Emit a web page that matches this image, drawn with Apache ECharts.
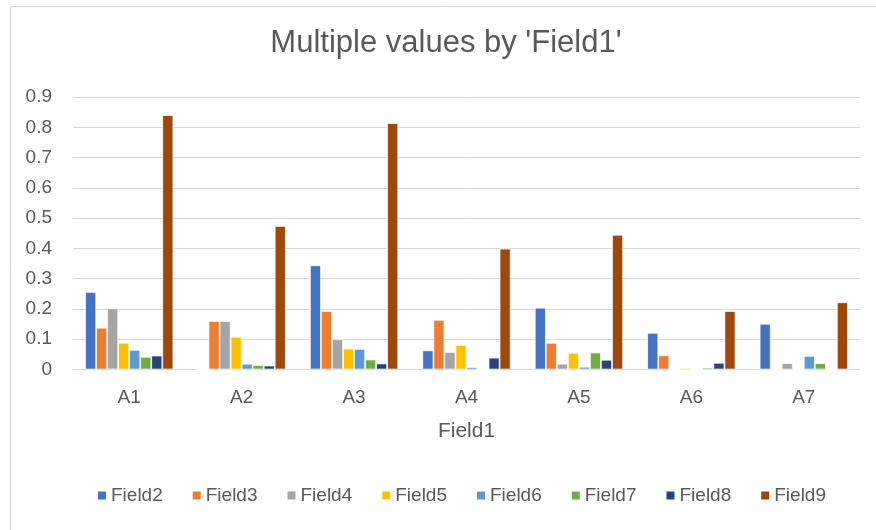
<!DOCTYPE html>
<html>
<head>
<meta charset="utf-8">
<script src="https://cdn.jsdelivr.net/npm/echarts@6/dist/echarts.min.js"></script>
<style>
html,body{margin:0;padding:0;background:#fff;}
#chart{width:876px;height:530px;}
</style>
</head>
<body>
<div id="chart"></div>
<script>
const titleText = "Multiple values by 'Field1'";
const categories = ['A1', 'A2', 'A3', 'A4', 'A5', 'A6', 'A7'];
const seriesNames = ['Field2', 'Field3', 'Field4', 'Field5', 'Field6', 'Field7', 'Field8', 'Field9'];
const field2 = [0.256, 0, 0.344, 0.063, 0.204, 0.121, 0.151];
const field3 = [0.138, 0.160, 0.193, 0.164, 0.088, 0.047, 0];
const field4 = [0.202, 0.160, 0.100, 0.058, 0.019, 0, 0.021];
const field5 = [0.088, 0.108, 0.069, 0.081, 0.055, 0.005, 0];
const field6 = [0.065, 0.019, 0.068, 0.008, 0.009, 0, 0.045];
const field7 = [0.042, 0.015, 0.033, 0, 0.056, 0.006, 0.021];
const field8 = [0.046, 0.013, 0.020, 0.039, 0.032, 0.022, 0];
const field9 = [0.840, 0.474, 0.814, 0.399, 0.445, 0.193, 0.222];
const seriesValues = [field2, field3, field4, field5, field6, field7, field8, field9];
const colors = ['#4472C4', '#ED7D31', '#A5A5A5', '#FFC000', '#5B9BD5', '#70AD47', '#264478', '#9E480E'];

const FONT = 'Liberation Sans, Arial, sans-serif';
const TXT = '#595959';

const chart = echarts.init(document.getElementById('chart'), null, {renderer: 'canvas'});
chart.setOption({
  animation: false,
  backgroundColor: '#ffffff',
  color: colors,
  graphic: [{
    type: 'rect',
    shape: {x: 10.5, y: 6.5, width: 900, height: 600},
    style: {fill: 'none', stroke: '#d9d9d9', lineWidth: 1},
    silent: true
  }],
  title: {
    text: titleText,
    left: 446,
    top: 28,
    textAlign: 'center',
    padding: 0,
    textStyle: {fontFamily: FONT, fontSize: 31, fontWeight: 'normal', color: TXT}
  },
  legend: {
    data: seriesNames,
    left: 96,
    top: 486,
    itemWidth: 10,
    itemHeight: 10,
    itemGap: 28,
    icon: 'rect',
    padding: 0,
    textStyle: {fontFamily: FONT, fontSize: 19, color: TXT, padding: [0, 0, 0, -1]}
  },
  grid: {left: 73, right: 16, top: 97, bottom: 160.5, containLabel: false},
  xAxis: {
    type: 'category',
    data: categories,
    name: 'Field1',
    nameLocation: 'middle',
    nameGap: 51,
    nameTextStyle: {fontFamily: FONT, fontSize: 21, color: TXT},
    axisLine: {lineStyle: {color: '#d9d9d9', width: 1}},
    axisTick: {show: false},
    axisLabel: {fontFamily: FONT, fontSize: 19, color: TXT, margin: 19}
  },
  yAxis: {
    type: 'value',
    min: 0,
    max: 0.9,
    interval: 0.1,
    axisLine: {show: false},
    axisTick: {show: false},
    axisLabel: {fontFamily: FONT, fontSize: 19, color: TXT, margin: 21},
    splitLine: {lineStyle: {color: '#d9d9d9', width: 1}}
  },
  series: seriesNames.map((name, i) => ({
    name: name,
    type: 'bar',
    data: seriesValues[i],
    barGap: '0%',
    barCategoryGap: '21.5%',
    itemStyle: {color: colors[i], borderColor: '#ffffff', borderWidth: 0.75}
  }))
});
</script>
</body>
</html>
